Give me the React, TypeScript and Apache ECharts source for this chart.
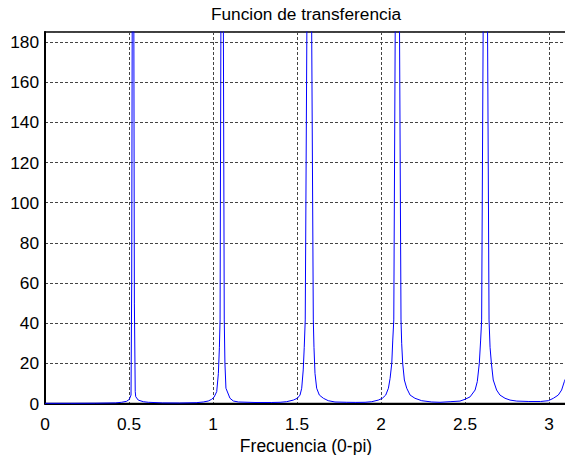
import React, { useEffect, useRef } from "react";
import * as echarts from "echarts";

// Frequency axis (rad/sample, 0 to pi) and transfer-function magnitude
const freq = [
  0, 0.15, 0.3, 0.42, 0.456, 0.486, 0.502, 0.512, 0.516, 0.524, 0.532, 0.537, 0.54, 0.555, 0.585, 0.615,
  0.7, 0.8, 0.9, 0.942, 0.972, 0.992, 1.006, 1.022, 1.032, 1.038, 1.042, 1.054, 1.067, 1.071, 1.077, 1.101,
  1.121, 1.151, 1.25, 1.35, 1.399, 1.438, 1.478, 1.502, 1.518, 1.528, 1.537, 1.543, 1.549, 1.573, 1.597,
  1.601, 1.607, 1.617, 1.633, 1.657, 1.686, 1.726, 1.796, 1.85, 1.905, 1.945, 1.984, 2.008, 2.028, 2.044,
  2.054, 2.064, 2.07, 2.076, 2.097, 2.119, 2.123, 2.129, 2.139, 2.153, 2.173, 2.202, 2.242, 2.302, 2.351,
  2.411, 2.47, 2.5, 2.53, 2.56, 2.573, 2.585, 2.593, 2.599, 2.621, 2.643, 2.649, 2.657, 2.668, 2.688, 2.708,
  2.738, 2.768, 2.808, 2.88, 2.95, 2.996, 3.026, 3.055, 3.075, 3.091, 3.107,
];
const magnitude = [
  0.1, 0.1, 0.15, 0.3, 0.6, 1.1, 2.1, 4.2, 60, 400, 50, 6, 3.4, 1.7, 0.9, 0.6,
  0.3, 0.25, 0.4, 0.75, 1.25, 2.1, 3.1, 5.9, 15, 28, 41.6, 400, 41.6, 20, 7.6, 2.6,
  1.25, 0.75, 0.5, 0.5, 0.6, 0.9, 1.7, 2.6, 4.2, 7.6, 16.7, 28, 41.6, 400, 41.6,
  28, 15, 7.6, 4.2, 2.6, 1.4, 0.75, 0.6, 0.55, 0.6, 0.9, 1.7, 2.6, 4.2, 7.6,
  12.5, 20, 31.6, 41.6, 400, 41.6, 30, 20, 11.7, 7.6, 4.2, 2.6, 1.4, 0.75, 0.6,
  0.9, 1.2, 2.1, 3.3, 6.7, 10.9, 20, 31.6, 41.6, 400, 41.6, 28, 20, 11.7, 6.7, 4.2,
  2.6, 1.7, 1.2, 1.0, 1.0, 1.4, 2.6, 4.2, 6.7, 10.9, 14,
];

const titleText = "Funcion de transferencia";
const xLabel = "Frecuencia (0-pi)";

export default function App() {
  const ref = useRef<HTMLDivElement>(null);

  useEffect(() => {
    if (!ref.current) return;
    const chart = echarts.init(ref.current, null, { renderer: "svg" });
    const font = "'Liberation Sans', Arial, sans-serif";
    const gridLine = { show: true, lineStyle: { color: "#444", width: 1, type: [3, 2] as any } };

    chart.setOption({
      animation: false,
      backgroundColor: "#fff",
      title: {
        text: titleText,
        left: 306,
        top: 5,
        padding: 0,
        textAlign: "center",
        textStyle: { fontFamily: font, fontSize: 17.3, fontWeight: "normal", color: "#000" },
      },
      grid: {
        left: 45,
        right: -2,
        top: 32,
        bottom: 51.5,
        outerBoundsMode: "none",
        show: true,
        borderColor: "#000",
        borderWidth: 1.5,
        backgroundColor: "#fff",
      },
      xAxis: {
        type: "value",
        min: 0,
        max: 3.107,
        interval: 0.5,
        name: xLabel,
        nameLocation: "middle",
        nameGap: 31,
        nameTextStyle: { fontFamily: font, fontSize: 17.5, color: "#000" },
        axisLine: { show: true, onZero: false, lineStyle: { color: "#000", width: 2 } },
        axisTick: { show: false },
        axisLabel: { fontFamily: font, fontSize: 17.3, color: "#000", margin: 12, showMaxLabel: false },
        splitLine: gridLine,
      },
      yAxis: {
        type: "value",
        min: 0,
        max: 185,
        interval: 20,
        axisLine: { show: true, lineStyle: { color: "#000", width: 2 } },
        axisTick: { show: false },
        axisLabel: { fontFamily: font, fontSize: 17.3, color: "#000", margin: 6, showMaxLabel: false },
        splitLine: gridLine,
      },
      series: [
        {
          type: "line",
          data: freq.map((f, i) => [f, magnitude[i]]),
          showSymbol: false,
          clip: true,
          lineStyle: { color: "#0000ff", width: 1 },
          z: 5,
        },
      ],
    });
    return () => chart.dispose();
  }, []);

  return (
    <div
      ref={ref}
      style={{ position: "fixed", left: 0, top: 0, width: 565, height: 455, background: "#fff" }}
    />
  );
}
